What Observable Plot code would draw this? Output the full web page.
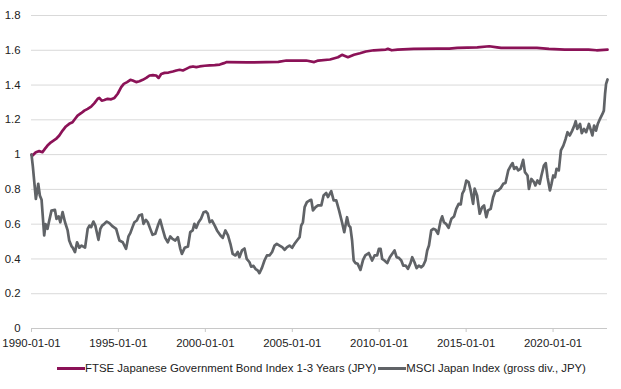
<!DOCTYPE html>
<html><head><meta charset="utf-8">
<script src="https://cdn.jsdelivr.net/npm/d3@7"></script>
<script src="https://cdn.jsdelivr.net/npm/@observablehq/plot@0.6"></script>
<style>
body{margin:0;background:#fff;font-family:"Liberation Sans",Arial,sans-serif;}
#legend{display:flex;justify-content:center;align-items:center;font-size:11.4px;color:#222;height:24px;margin-left:22px;}
.sw{display:inline-block;width:28px;height:3px;margin-right:0px;}
.item{display:flex;align-items:center;margin:0 1px;}
</style></head><body>
<div id="chart"></div>
<div id="legend"></div>
<script>
const seriesNames = ["FTSE Japanese Government Bond Index 1-3 Years (JPY)", "MSCI Japan Index (gross div., JPY)"];
const seriesColors = ["#8b1257", "#606367"];

const bondYears = [1990.00,1990.06,1990.25,1990.44,1990.63,1990.77,1990.92,1991.12,1991.41,1991.60,1991.79,1991.98,1992.17,1992.36,1992.50,1992.65,1992.85,1993.04,1993.23,1993.43,1993.62,1993.81,1993.90,1994.04,1994.19,1994.38,1994.58,1994.77,1994.96,1995.16,1995.31,1995.50,1995.69,1995.82,1996.02,1996.21,1996.40,1996.60,1996.79,1996.98,1997.17,1997.31,1997.46,1997.65,1997.88,1998.13,1998.33,1998.52,1998.71,1998.90,1999.10,1999.29,1999.48,1999.67,1999.96,2000.25,2000.54,2000.83,2001.07,2001.23,2002.38,2004.20,2004.66,2005.80,2006.26,2006.49,2007.17,2007.63,2007.86,2008.20,2008.55,2008.89,2009.23,2009.69,2010.38,2010.50,2010.72,2011.06,2011.98,2013.35,2014.04,2014.49,2015.64,2016.33,2016.78,2017.01,2017.93,2019.07,2019.76,2020.67,2022.04,2022.50,2023.13];
const bondValues = [1.000,0.995,1.014,1.020,1.014,1.033,1.052,1.071,1.090,1.110,1.138,1.162,1.177,1.186,1.205,1.224,1.238,1.253,1.263,1.276,1.296,1.321,1.326,1.310,1.314,1.321,1.318,1.326,1.350,1.388,1.407,1.417,1.430,1.426,1.417,1.422,1.430,1.441,1.455,1.457,1.455,1.441,1.464,1.470,1.472,1.478,1.484,1.488,1.484,1.493,1.503,1.507,1.503,1.507,1.511,1.513,1.515,1.518,1.526,1.532,1.530,1.533,1.541,1.541,1.532,1.541,1.547,1.560,1.574,1.560,1.574,1.583,1.593,1.600,1.604,1.608,1.600,1.604,1.608,1.610,1.610,1.614,1.617,1.623,1.617,1.614,1.614,1.614,1.608,1.604,1.604,1.600,1.604];

const msciYears = [1990.00,1990.08,1990.25,1990.39,1990.48,1990.58,1990.73,1990.81,1990.92,1991.00,1991.15,1991.35,1991.44,1991.56,1991.66,1991.79,1991.93,1992.08,1992.17,1992.31,1992.37,1992.50,1992.62,1992.75,1992.88,1993.08,1993.23,1993.33,1993.43,1993.56,1993.67,1993.85,1993.96,1994.06,1994.19,1994.33,1994.48,1994.67,1994.87,1995.06,1995.25,1995.44,1995.58,1995.69,1995.81,1995.92,1996.06,1996.19,1996.35,1996.44,1996.58,1996.69,1996.83,1996.96,1997.12,1997.27,1997.40,1997.54,1997.69,1997.84,1997.98,1998.11,1998.27,1998.42,1998.56,1998.65,1998.81,1999.00,1999.13,1999.27,1999.37,1999.48,1999.61,1999.75,1999.90,2000.03,2000.14,2000.25,2000.38,2000.54,2000.67,2000.87,2001.00,2001.15,2001.30,2001.44,2001.57,2001.73,2001.86,2001.96,2002.11,2002.25,2002.38,2002.54,2002.63,2002.77,2002.88,2003.02,2003.11,2003.26,2003.40,2003.54,2003.69,2003.84,2003.98,2004.11,2004.27,2004.42,2004.56,2004.70,2004.84,2004.99,2005.13,2005.27,2005.42,2005.51,2005.61,2005.71,2005.84,2006.00,2006.09,2006.19,2006.34,2006.48,2006.67,2006.80,2006.95,2007.05,2007.24,2007.38,2007.53,2007.69,2007.86,2007.99,2008.15,2008.25,2008.34,2008.44,2008.53,2008.63,2008.76,2008.92,2009.07,2009.20,2009.40,2009.59,2009.73,2009.88,2009.98,2010.08,2010.17,2010.30,2010.46,2010.61,2010.75,2010.88,2011.00,2011.13,2011.27,2011.38,2011.52,2011.65,2011.80,2011.90,2012.03,2012.15,2012.28,2012.42,2012.53,2012.66,2012.76,2012.86,2012.99,2013.11,2013.24,2013.38,2013.53,2013.62,2013.72,2013.86,2013.99,2014.15,2014.30,2014.43,2014.57,2014.69,2014.78,2014.88,2015.01,2015.14,2015.26,2015.40,2015.49,2015.63,2015.78,2015.92,2016.03,2016.16,2016.26,2016.41,2016.55,2016.68,2016.84,2016.99,2017.13,2017.26,2017.42,2017.57,2017.67,2017.76,2017.89,2017.99,2018.13,2018.28,2018.38,2018.53,2018.61,2018.75,2018.90,2018.98,2019.10,2019.23,2019.33,2019.47,2019.58,2019.68,2019.82,2019.91,2020.01,2020.11,2020.20,2020.33,2020.45,2020.59,2020.72,2020.83,2020.96,2021.10,2021.22,2021.30,2021.39,2021.55,2021.65,2021.78,2021.90,2022.00,2022.06,2022.18,2022.26,2022.36,2022.47,2022.57,2022.70,2022.84,2022.92,2022.99,2023.05,2023.13];
const msciValues = [1.000,0.930,0.745,0.832,0.765,0.740,0.535,0.600,0.573,0.611,0.678,0.682,0.630,0.645,0.611,0.669,0.611,0.564,0.506,0.472,0.465,0.439,0.496,0.465,0.477,0.465,0.573,0.592,0.583,0.615,0.592,0.510,0.573,0.592,0.602,0.615,0.606,0.587,0.573,0.506,0.496,0.458,0.530,0.550,0.583,0.611,0.621,0.650,0.656,0.602,0.625,0.611,0.573,0.539,0.545,0.592,0.625,0.573,0.521,0.496,0.529,0.515,0.506,0.525,0.458,0.429,0.464,0.472,0.554,0.564,0.602,0.579,0.611,0.631,0.669,0.673,0.660,0.611,0.621,0.592,0.564,0.535,0.521,0.564,0.535,0.487,0.429,0.420,0.440,0.410,0.450,0.460,0.400,0.381,0.356,0.360,0.343,0.333,0.318,0.350,0.391,0.420,0.420,0.440,0.477,0.487,0.477,0.468,0.453,0.468,0.477,0.464,0.487,0.506,0.525,0.592,0.611,0.698,0.727,0.737,0.740,0.679,0.698,0.708,0.708,0.765,0.779,0.756,0.790,0.737,0.737,0.679,0.611,0.554,0.640,0.592,0.583,0.506,0.391,0.376,0.372,0.337,0.395,0.420,0.434,0.391,0.420,0.420,0.458,0.458,0.400,0.391,0.376,0.410,0.430,0.449,0.410,0.406,0.391,0.362,0.362,0.343,0.376,0.410,0.381,0.347,0.362,0.352,0.362,0.391,0.449,0.477,0.564,0.573,0.568,0.545,0.620,0.645,0.611,0.600,0.579,0.631,0.644,0.688,0.717,0.714,0.775,0.794,0.851,0.842,0.794,0.717,0.804,0.765,0.660,0.698,0.708,0.640,0.679,0.688,0.755,0.789,0.794,0.808,0.832,0.837,0.909,0.937,0.951,0.918,0.928,0.909,0.918,0.970,0.899,0.880,0.803,0.860,0.842,0.823,0.851,0.832,0.880,0.937,0.951,0.870,0.794,0.832,0.880,0.870,0.918,0.909,1.024,1.052,1.090,1.129,1.110,1.138,1.167,1.192,1.148,1.176,1.123,1.148,1.129,1.157,1.176,1.138,1.110,1.167,1.138,1.176,1.206,1.234,1.253,1.350,1.407,1.432];

const xTickLabels = ["1990-01-01","1995-01-01","2000-01-01","2005-01-01","2010-01-01","2015-01-01","2020-01-01"];
const yTicks = [0,0.2,0.4,0.6,0.8,1,1.2,1.4,1.6,1.8];

function toDate(y){const yr=Math.floor(y);const s=Date.UTC(yr,0,1),e=Date.UTC(yr+1,0,1);return new Date(s+(y-yr)*(e-s));}

const rows = [];
bondYears.forEach((y,i)=>rows.push({date:toDate(y), value:bondValues[i], series:seriesNames[0]}));
msciYears.forEach((y,i)=>rows.push({date:toDate(y), value:msciValues[i], series:seriesNames[1]}));
const xTicks = xTickLabels.map(s=>new Date(s+"T00:00:00Z"));
const fmt = d3.utcFormat("%Y-%m-%d");
const font = '"Liberation Sans",Arial,sans-serif';

const chart = Plot.plot({
  width: 621, height: 356,
  marginLeft: 31, marginRight: 14, marginTop: 15, marginBottom: 28,
  style: {fontFamily: font, fontSize: "11.4px", color: "#222", background: "#fff"},
  x: {type: "utc", domain: [toDate(1990), toDate(2023.13)]},
  y: {domain: [0, 1.8]},
  color: {domain: seriesNames, range: seriesColors},
  marks: [
    Plot.gridY(yTicks, {stroke: "#d9d9d9", strokeOpacity: 1}),
    Plot.axisY(yTicks, {tickSize: 0, tickPadding: 11, tickFormat: d => String(+d.toFixed(1)), label: null, fontSize: 11.4}),
    Plot.ruleY([0], {stroke: "#c8c8c8"}),
    Plot.axisX(xTicks, {tickSize: 4, tickPadding: 6, stroke: "#c8c8c8", tickFormat: fmt, label: null, fontSize: 11.4}),
    Plot.lineY(rows, {x: "date", y: "value", z: "series", stroke: "series", strokeWidth: 2.7, strokeLinejoin: "round"})
  ]
});
document.getElementById("chart").append(chart);

const leg = document.getElementById("legend");
seriesNames.forEach((n,i)=>{
  const it=document.createElement("span"); it.className="item";
  const sw=document.createElement("span"); sw.className="sw"; sw.style.background=seriesColors[i];
  const tx=document.createElement("span"); tx.textContent=n;
  it.append(sw,tx); leg.append(it);
});
</script>
</body></html>
